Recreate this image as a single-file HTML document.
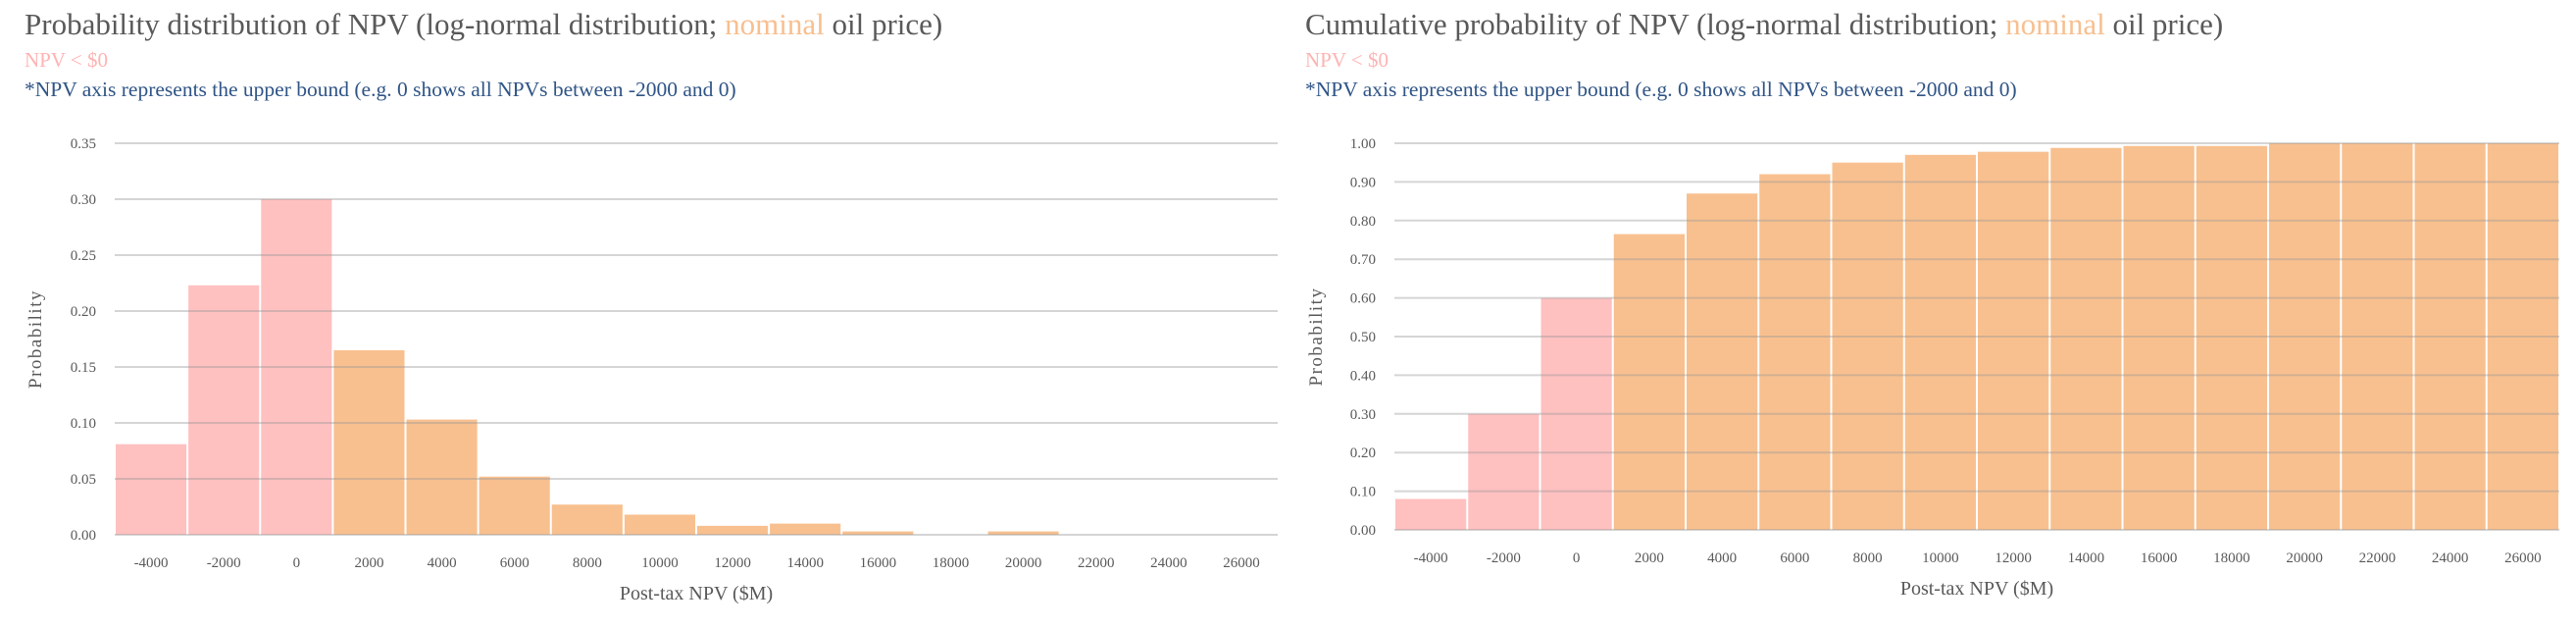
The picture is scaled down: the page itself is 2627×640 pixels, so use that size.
<!DOCTYPE html>
<html><head><meta charset="utf-8">
<style>
html,body{margin:0;padding:0;background:#fff;}
body{width:2627px;height:640px;overflow:hidden;position:relative;font-family:"Liberation Serif",serif;}
svg{position:absolute;left:0;top:0;}
</style></head>
<body>
<svg id="svg" width="2627" height="640" font-family="Liberation Serif, serif"></svg>
<script>
const categories = ["-4000","-2000","0","2000","4000","6000","8000","10000","12000","14000","16000","18000","20000","22000","24000","26000"];
const probValues = [0.081,0.223,0.300,0.165,0.103,0.052,0.027,0.018,0.008,0.010,0.003,0.000,0.003,0.000,0.000,0.000];
const cumValues = [0.080,0.300,0.600,0.765,0.870,0.920,0.950,0.970,0.978,0.988,0.993,0.993,1.000,1.000,1.000,1.000];
const probTicks = ["0.00","0.05","0.10","0.15","0.20","0.25","0.30","0.35"];
const cumTicks = ["0.00","0.10","0.20","0.30","0.40","0.50","0.60","0.70","0.80","0.90","1.00"];
const negCount = 3;

const NS = "http://www.w3.org/2000/svg";
const svg = document.getElementById('svg');
function mk(tag, attrs, parent){
  const e = document.createElementNS(NS, tag);
  for (const k in attrs) e.setAttribute(k, attrs[k]);
  (parent||svg).appendChild(e);
  return e;
}
function drawChart(cfg){
  const g = mk('g', {});
  
  
  const t = mk('text', {x:cfg.tx, y:35, 'font-size':31, fill:'#595959'}, g);
  
  
  t.innerHTML = cfg.title + ' (log-normal distribution; <tspan fill="#f8bf8f">nominal</tspan> oil price)';
  const s = mk('text', {x:cfg.tx, y:68, 'font-size':21, fill:'#ffb3b3'}, g);
  
  
  s.textContent = 'NPV < $0';
  const n = mk('text', {x:cfg.tx, y:98, 'font-size':21.5, fill:'#2f5486'}, g);
  
  
  n.textContent = '*NPV axis represents the upper bound (e.g. 0 shows all NPVs between -2000 and 0)';

  const x0 = cfg.x0, x1 = cfg.x1, yTop = cfg.yTop, yBot = cfg.yBot;
  const maxV = parseFloat(cfg.ticks[cfg.ticks.length-1]);
  const yScale = v => yBot - (v/maxV)*(yBot-yTop);
  const bw = (x1-x0)/categories.length;
  const xScale = i => x0 + i*bw;

  cfg.values.forEach((v,i)=>{
    const r = mk('rect', {x:xScale(i)+1, y:yScale(v), width:bw-2, height:Math.max(0,yBot-yScale(v)), fill: i<negCount ? '#ffc0c0' : '#f8c08f'}, g);
    
    
  });
  cfg.ticks.forEach(tk=>{
    const y = yScale(parseFloat(tk));
    const l = mk('line', {x1:x0, x2:x1, y1:y, y2:y, stroke:'rgba(150,150,150,0.4)', 'stroke-width':2}, g);
    
    
    const tl = mk('text', {x:x0-19, y:y+5, 'font-size':15, fill:'#595959', 'text-anchor':'end'}, g);
    
    
    tl.textContent = tk;
  });
  categories.forEach((c,i)=>{
    const tl = mk('text', {x:xScale(i)+bw/2, y:cfg.yBot+33, 'font-size':15, fill:'#595959', 'text-anchor':'middle'}, g);
    
    
    tl.textContent = c;
  });
  const xt = mk('text', {x:(x0+x1)/2, y:cfg.yBot+66, 'font-size':20, fill:'#595959', 'text-anchor':'middle'}, g);
  
  
  xt.textContent = 'Post-tax NPV ($M)';
  const cy = (yTop+yBot)/2;
  const yt = mk('text', {x:cfg.tx+17, y:cy, 'font-size':19, fill:'#595959', 'text-anchor':'middle', 'letter-spacing':'1.5', transform:'rotate(-90 '+(cfg.tx+17)+' '+cy+')'}, g);
  
  
  yt.textContent = 'Probability';
}
drawChart({name:'probability-chart', title:'Probability distribution of NPV', tx:25, x0:117, x1:1303, yTop:146, yBot:545, values:probValues, ticks:probTicks});
drawChart({name:'cumulative-chart', title:'Cumulative probability of NPV', tx:1331, x0:1422, x1:2610, yTop:146, yBot:540, values:cumValues, ticks:cumTicks});
</script>
</body></html>
